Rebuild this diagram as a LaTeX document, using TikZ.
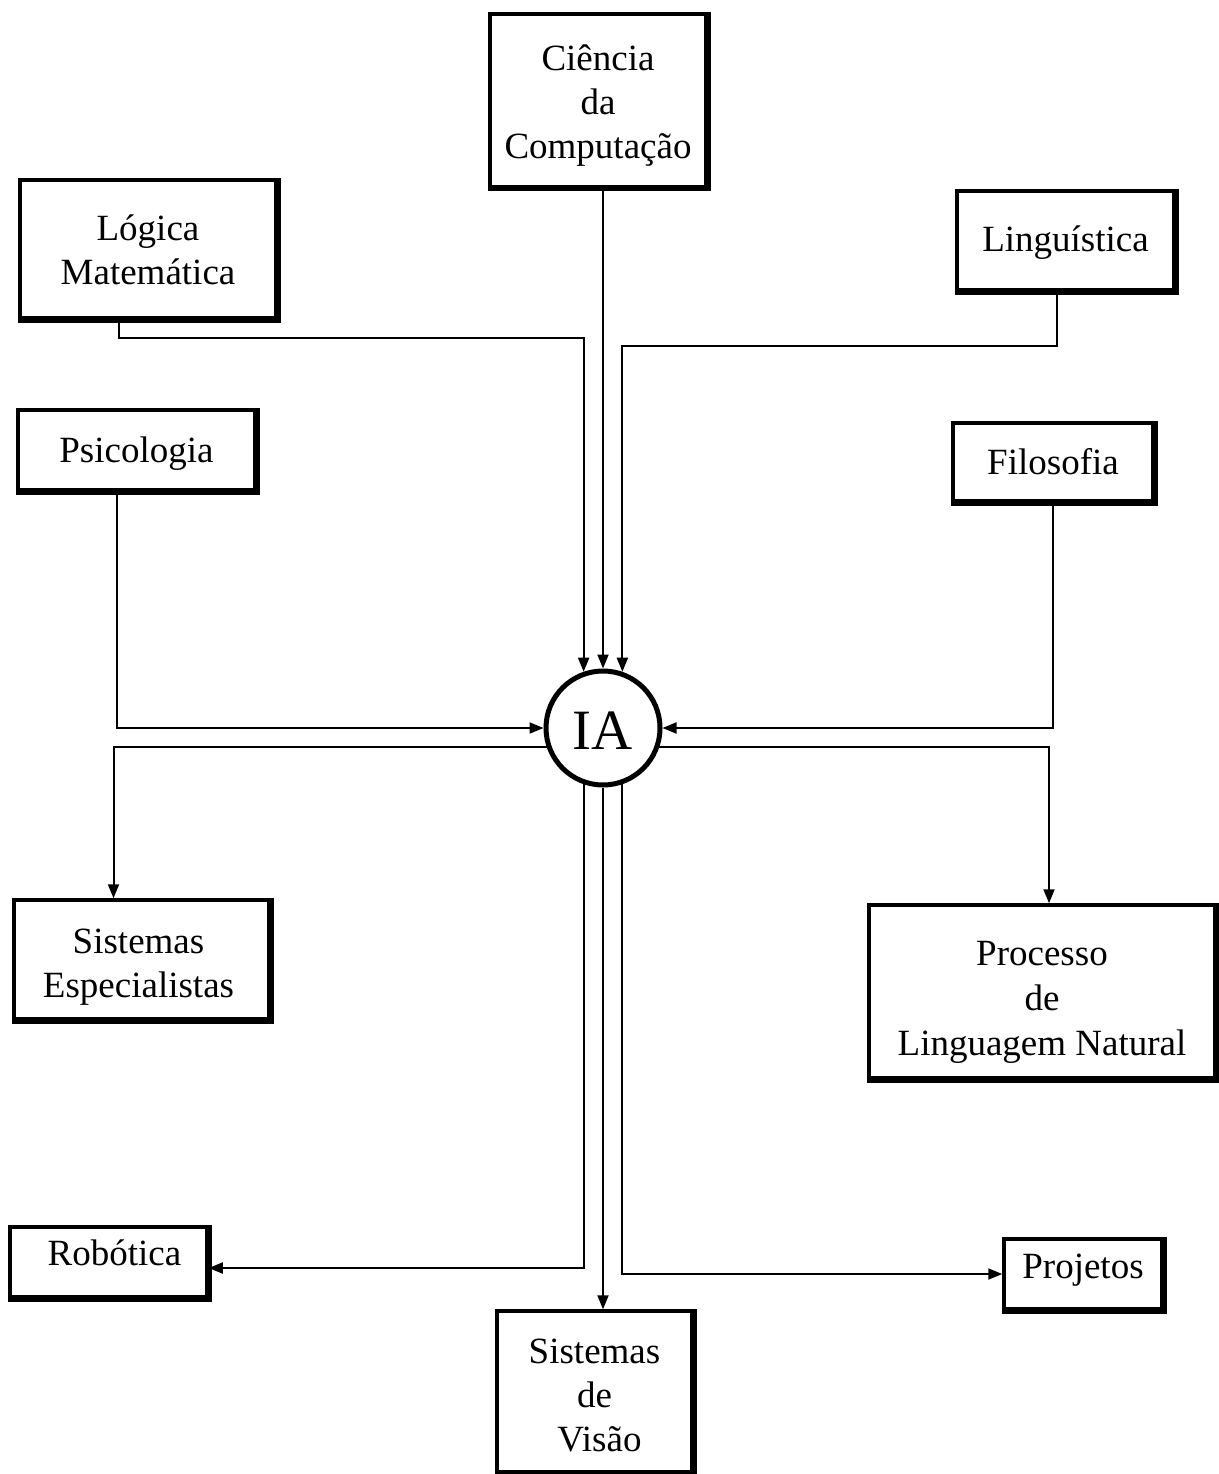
\documentclass[tikz,border=0pt]{standalone}
\usepackage{fontspec}
\setmainfont{Liberation Serif}
\usetikzlibrary{arrows.meta}
\begin{document}
\begin{tikzpicture}[x=1pt,y=-1pt,
  box/.style={draw, line width=3.5pt, inner sep=0pt},
  txt/.style={align=center, inner sep=0pt, font=\fontsize{37}{44}\selectfont},
  heavy/.style={line width=5.5pt},
  arr/.style={line width=2pt, -{Triangle[length=14pt,width=11pt]}}]

\fill[white] (0,0) rectangle (1218,1474);
\useasboundingbox (0,0) rectangle (1218,1474);

% source disciplines
\node[box, minimum width=216pt, minimum height=173pt] (ciencia) at (598,100.5) {};
\node[box, minimum width=256pt, minimum height=138pt] (logica) at (148,249) {};
\node[box, minimum width=217pt, minimum height=99pt] (linguistica) at (1065.5,240.5) {};
\node[box, minimum width=237pt, minimum height=80pt] (psicologia) at (136.5,450) {};
\node[box, minimum width=200pt, minimum height=78pt] (filosofia) at (1053,462) {};

% central node
\node[circle, draw, line width=5pt, minimum size=114pt, inner sep=0pt] (ia) at (603,728) {};
\node[inner sep=0pt, font=\fontsize{57}{60}\selectfont] (ia-t) at ([yshift=-3pt]ia.center) {IA};

% application areas
\node[box, minimum width=255pt, minimum height=119pt] (sisesp) at (141.5,959.5) {};
\node[box, minimum width=346pt, minimum height=173pt] (processo) at (1042,991.5) {};
\node[box, minimum width=197pt, minimum height=70pt] (robotica) at (108.5,1262) {};
\node[box, minimum width=158pt, minimum height=70pt] (projetos) at (1083,1274) {};
\node[box, minimum width=195pt, minimum height=161pt] (visao) at (594.5,1391.5) {};

% box captions
\node[txt] (ciencia-t) at ([yshift=-5pt]ciencia.center) {Ciência\\da\\Computação};
\node[txt] (logica-t) at ([yshift=-1pt]logica.center) {Lógica\\Matemática};
\node[txt] (linguistica-t) at ([yshift=-2pt]linguistica.center) {Linguística};
\node[txt] (psicologia-t) at ([yshift=-4pt]psicologia.center) {Psicologia};
\node[txt] (filosofia-t) at (filosofia.center) {Filosofia};
\node[txt] (sisesp-t) at ([xshift=-3pt,yshift=-8pt]sisesp.center) {Sistemas\\Especialistas};
\node[txt, font=\fontsize{37}{45}\selectfont] (processo-t) at ([yshift=-11pt]processo.center) {Processo\\de\\Linguagem Natural};
\node[txt] (robotica-t) at ([xshift=6pt,yshift=9pt]robotica.center) {Robótica};
\node[txt] (projetos-t) at ([yshift=4pt]projetos.center) {Projetos};
\node[txt] (visao-t) at ([yshift=-4pt]visao.center) {Sistemas\\de\\\hspace*{10pt}Visão};

% heavier right and bottom edges on the boxes
\foreach \b in {ciencia,logica,linguistica,psicologia,filosofia,sisesp,processo,robotica,projetos,visao}
  \draw[heavy] (\b.north east) -- (\b.south east) -- (\b.south west);

% turning heights of the upper connectors
\coordinate (lgrow) at (0,338);
\coordinate (lqrow) at (0,346);

% inputs into IA
\draw[arr] (ia.north |- ciencia.south) -- (ia.north);
\draw[arr] ([xshift=-29pt]logica.south) |- (ia.109 |- lgrow) -- (ia.109);
\draw[arr] ([xshift=-9pt]linguistica.south) |- (ia.71 |- lqrow) -- (ia.71);
\draw[arr] ([xshift=-20pt]psicologia.south) |- (ia.west);
\draw[arr] (filosofia.south) |- (ia.east);

% outputs from IA
\draw[arr] (ia.199) -| ([xshift=-28pt]sisesp.north);
\draw[arr] (ia.341) -| ([xshift=7pt]processo.north);
\draw[arr] (ia.251) |- ([yshift=-6pt]robotica.east);
\draw[arr] (ia.south) -- (ia.south |- visao.north);
\draw[arr] (ia.289) |- (projetos.west);

\end{tikzpicture}
\end{document}
